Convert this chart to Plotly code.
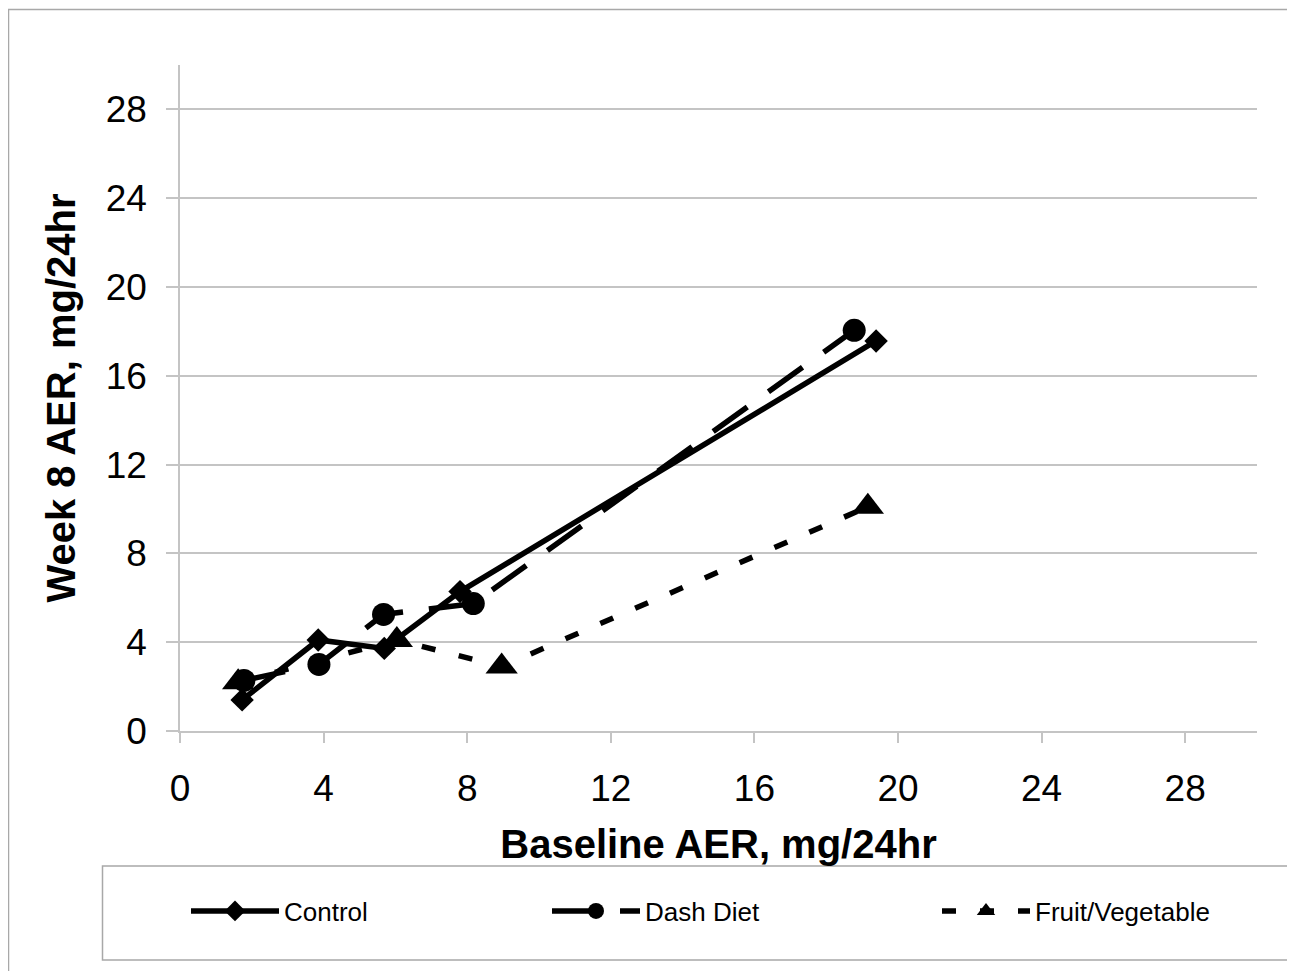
import plotly.graph_objects as go

# ---- data ----
control_x = [1.73, 3.85, 5.69, 7.8, 19.39]
control_y = [1.4, 4.1, 3.72, 6.28, 17.57]

dash_x = [1.78, 3.87, 5.67, 8.17, 18.78]
dash_y = [2.28, 3.0, 5.25, 5.74, 18.05]

fruit_x = [1.62, 6.04, 8.96, 19.16]
fruit_y = [2.2, 4.1, 2.9, 10.1]

tick_vals = [0, 4, 8, 12, 16, 20, 24, 28]

FONT = "Liberation Sans, Arial, sans-serif"
GRID = "#c4c4c4"

fig = go.Figure()
fig.add_trace(go.Scatter(
    x=control_x, y=control_y, name="Control", mode="lines+markers",
    line=dict(color="black", width=5.5),
    marker=dict(symbol="diamond", size=18, color="black"),
    legend="legend",
))
fig.add_trace(go.Scatter(
    x=dash_x, y=dash_y, name="Dash Diet", mode="lines+markers",
    line=dict(color="black", width=5.5, dash="42px,26px"),
    marker=dict(symbol="circle", size=23, color="black"),
    legend="legend2",
))
fig.add_trace(go.Scatter(
    x=fruit_x, y=fruit_y, name="Fruit/Vegetable", mode="lines+markers",
    line=dict(color="black", width=5.5, dash="14px,24px"),
    marker=dict(symbol="triangle-up", size=28, color="black"),
    legend="legend3",
))

# the page adds an 8px body margin, so target positions are shifted by 8px
OFF = 8
W, H = 1295, 971
L, T = 180 - OFF, 65 - OFF
R = W - (1257 - OFF)
B = H - (731 - OFF)
PW, PH = W - L - R, H - T - B


def px(x):
    return (x - OFF - L) / PW


def py(y):
    return (H - B - (y - OFF)) / PH


shapes = [
    # outer chart border
    dict(type="rect", xref="paper", yref="paper",
         x0=px(8.5), x1=px(1330), y0=py(1000), y1=py(9.5),
         line=dict(color="#a8a8a8", width=1.5), fillcolor="rgba(0,0,0,0)", layer="below"),
    # legend box
    dict(type="rect", xref="paper", yref="paper",
         x0=px(102.5), x1=px(1330), y0=py(960), y1=py(866),
         line=dict(color="#a8a8a8", width=1.5), fillcolor="rgba(0,0,0,0)", layer="below"),
]


def legend_at(xpix):
    return dict(
        orientation="h", x=px(xpix), xanchor="left", y=py(911), yanchor="middle",
        font=dict(family=FONT, size=26, color="black"),
        itemwidth=88, bgcolor="rgba(0,0,0,0)", borderwidth=0,
    )


fig.update_layout(
    width=W, height=H,
    margin=dict(l=L, r=R, t=T, b=B),
    paper_bgcolor="white", plot_bgcolor="white",
    font=dict(family=FONT, color="black"),
    shapes=shapes,
    showlegend=True,
    legend=legend_at(186),
    legend2=legend_at(547),
    legend3=legend_at(937),
    xaxis=dict(
        range=[0, 30], tickvals=tick_vals, showgrid=False, zeroline=False,
        showline=True, linecolor=GRID, linewidth=1.5,
        ticks="outside", ticklen=10, tickcolor=GRID, tickwidth=1.5,
        tickfont=dict(family=FONT, size=37), ticklabelstandoff=14,
        title=dict(text="<b>Baseline AER, mg/24hr</b>",
                   font=dict(family=FONT, size=40), standoff=22),
    ),
    yaxis=dict(
        range=[0, 30], tickvals=tick_vals, showgrid=True, gridcolor=GRID, gridwidth=1.5,
        zeroline=False, showline=True, linecolor=GRID, linewidth=1.5,
        ticks="outside", ticklen=12, tickcolor=GRID, tickwidth=1.5,
        tickfont=dict(family=FONT, size=37), ticklabelstandoff=12,
        title=dict(text="<b>Week 8 AER, mg/24hr</b>",
                   font=dict(family=FONT, size=40), standoff=18),
    ),
)

fig.write_html("out.html")
